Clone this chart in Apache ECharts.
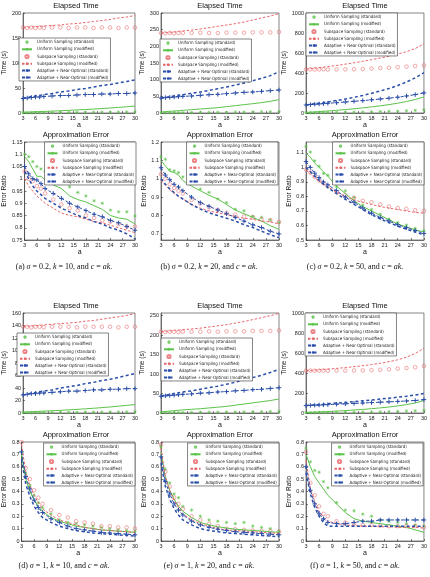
<!DOCTYPE html>
<html>
<head>
<meta charset="utf-8">
<script src="https://cdn.jsdelivr.net/npm/echarts@6/dist/echarts.min.js"></script>
<style>
  html, body { margin: 0; padding: 0; background: #fff; }
  #main { width: 430px; height: 577px; }
</style>
</head>
<body>
<div id="main"></div>
<script type="text/javascript">
// sampling factor a
var aValues = [3, 4, 5, 6, 7, 8, 10, 12, 14, 16, 18, 20, 22, 24, 26, 28, 30];
var seriesNames = [
  'Uniform Sampling (standard)',
  'Uniform Sampling (modified)',
  'Subspace Sampling (standard)',
  'Subspace Sampling (modified)',
  'Adaptive + Near-Optimal (standard)',
  'Adaptive + Near-Optimal (modified)'
];
var captions = [
  '(a) {i|σ} = 0.2, {i|k} = 10, and {i|c} = {i|ak}.',
  '(b) {i|σ} = 0.2, {i|k} = 20, and {i|c} = {i|ak}.',
  '(c) {i|σ} = 0.2, {i|k} = 50, and {i|c} = {i|ak}.',
  '(d) {i|σ} = 1, {i|k} = 10, and {i|c} = {i|ak}.',
  '(e) {i|σ} = 1, {i|k} = 20, and {i|c} = {i|ak}.',
  '(f) {i|σ} = 1, {i|k} = 50, and {i|c} = {i|ak}.'
];

// tick labels
var timeTicks200 = [0, 50, 100, 150, 200];
var timeTicks300 = [0, 50, 100, 150, 200, 250, 300];
var timeTicks1000 = [0, 200, 400, 600, 800, 1000];
var timeTicks160 = [0, 20, 40, 60, 80, 100, 120, 140, 160];
var timeTicks250 = [0, 50, 100, 150, 200, 250];
var errTicksA = [0.75, 0.8, 0.85, 0.9, 0.95, 1, 1.05, 1.1, 1.15];
var errTicksB = [0.7, 0.8, 0.9, 1, 1.1, 1.2];
var errTicksC = [0.5, 0.6, 0.7, 0.8, 0.9, 1, 1.1];
var errTicksLow = [0, 0.1, 0.2, 0.3, 0.4, 0.5, 0.6, 0.7, 0.8];

// (a) sigma=0.2, k=10
var timeA_uniStd = [0.6, 0.7, 0.7, 0.8, 0.9, 0.9, 1.0, 1.2, 1.3, 1.4, 1.5, 1.6, 1.8, 1.9, 2.0, 2.1, 2.3];
var timeA_uniMod = [1.5, 1.8, 2.1, 2.5, 2.8, 3.1, 3.8, 4.5, 5.3, 6.1, 7.0, 7.9, 8.9, 10.0, 11.2, 12.5, 14.0];
var timeA_subStd = [171, 170, 171, 170, 171, 170, 171, 171, 170, 171, 171, 170, 171, 171, 170, 171, 171];
var timeA_subMod = [171, 172, 172, 173, 173, 174, 175, 176, 178, 179, 181, 183, 185, 187, 190, 192, 195];
var timeA_adaStd = [29, 30, 31, 32, 32, 33, 34, 35, 35, 36, 37, 37, 38, 38, 39, 39, 40];
var timeA_adaMod = [30, 31, 33, 34, 35, 37, 39, 42, 44, 47, 49, 52, 55, 57, 60, 63, 66];
var errA_uniStd = [1.10, 1.09, 1.07, 1.05, 1.04, 1.03, 1.0, 0.98, 0.967, 0.944, 0.93, 0.91, 0.90, 0.872, 0.865, 0.865, 0.848];
var errA_uniMod = [1.09, 1.07, 1.04, 1.01, 1.01, 0.995, 0.975, 0.96, 0.93, 0.915, 0.905, 0.89, 0.875, 0.85, 0.84, 0.835, 0.815];
var errA_subStd = [1.03, 1.0, 0.99, 0.97, 0.96, 0.94, 0.915, 0.895, 0.88, 0.87, 0.85, 0.84, 0.83, 0.825, 0.815, 0.805, 0.805];
var errA_subMod = [1.0, 0.97, 0.95, 0.93, 0.915, 0.9, 0.88, 0.86, 0.85, 0.845, 0.835, 0.825, 0.82, 0.81, 0.8, 0.79, 0.78];
var errA_adaStd = [1.05, 1.02, 1.0, 0.995, 0.98, 0.96, 0.94, 0.92, 0.9, 0.885, 0.87, 0.855, 0.845, 0.83, 0.82, 0.805, 0.79];
var errA_adaMod = [1.03, 1.0, 0.97, 0.95, 0.935, 0.92, 0.9, 0.88, 0.865, 0.85, 0.84, 0.825, 0.815, 0.8, 0.79, 0.775, 0.755];

// (b) sigma=0.2, k=20
var timeB_uniStd = [0.8, 0.9, 1.0, 1.1, 1.2, 1.3, 1.5, 1.7, 1.9, 2.1, 2.3, 2.6, 2.8, 3.1, 3.4, 3.7, 4.0];
var timeB_uniMod = [3, 4, 5, 6, 7, 8, 10, 12, 14, 16, 19, 22, 25, 28, 31, 35, 40];
var timeB_subStd = [240, 239, 240, 239, 240, 240, 240, 241, 240, 240, 241, 241, 241, 242, 242, 242, 243];
var timeB_subMod = [240, 241, 242, 243, 245, 246, 249, 252, 256, 260, 264, 268, 273, 279, 285, 291, 298];
var timeB_adaStd = [45, 46, 47, 48, 49, 50, 51, 53, 55, 56, 58, 60, 62, 63, 65, 67, 69];
var timeB_adaMod = [45, 47, 49, 51, 53, 55, 59, 63, 68, 73, 78, 84, 90, 97, 104, 112, 124];
var errB_uniStd = [1.119, 1.106, 1.05, 1.043, 1.034, 1.01, 0.975, 0.944, 0.926, 0.89, 0.87, 0.834, 0.826, 0.797, 0.79, 0.776, 0.761];
var errB_uniMod = [1.1, 1.07, 1.04, 1.035, 1.02, 0.99, 0.96, 0.935, 0.91, 0.89, 0.86, 0.83, 0.81, 0.79, 0.77, 0.745, 0.725];
var errB_subStd = [1.025, 1.0, 0.97, 0.95, 0.935, 0.92, 0.885, 0.865, 0.845, 0.83, 0.815, 0.805, 0.795, 0.79, 0.78, 0.775, 0.765];
var errB_subMod = [0.99, 0.965, 0.94, 0.92, 0.905, 0.89, 0.86, 0.84, 0.825, 0.815, 0.805, 0.795, 0.785, 0.78, 0.77, 0.765, 0.755];
var errB_adaStd = [1.06, 1.02, 0.995, 0.97, 0.955, 0.935, 0.9, 0.87, 0.85, 0.83, 0.81, 0.79, 0.77, 0.75, 0.735, 0.715, 0.70];
var errB_adaMod = [1.0, 0.97, 0.945, 0.925, 0.905, 0.89, 0.86, 0.835, 0.815, 0.8, 0.785, 0.77, 0.75, 0.735, 0.715, 0.695, 0.68];

// (c) sigma=0.2, k=50
var timeC_uniStd = [3, 4, 4, 5, 5, 6, 7, 8, 9, 10, 12, 14, 16, 18, 22, 26, 32];
var timeC_uniMod = [5, 8, 11, 14, 17, 20, 27, 34, 42, 51, 61, 72, 84, 98, 115, 135, 160];
var timeC_subStd = [436, 437, 435, 436, 437, 435, 436, 436, 437, 440, 444, 449, 453, 458, 464, 470, 476];
var timeC_subMod = [440, 444, 449, 454, 459, 464, 475, 488, 502, 517, 533, 550, 568, 589, 613, 645, 690];
var timeC_adaStd = [80, 84, 88, 91, 94, 97, 103, 110, 117, 124, 132, 140, 148, 158, 170, 184, 201];
var timeC_adaMod = [80, 86, 92, 98, 104, 111, 125, 140, 157, 176, 197, 220, 245, 275, 310, 352, 403];
var errC_uniStd = [1.145, 1.106, 1.045, 1.008, 0.958, 0.946, 0.866, 0.839, 0.793, 0.74, 0.71, 0.678, 0.644, 0.62, 0.603, 0.58, 0.564];
var errC_uniMod = [1.1, 1.07, 1.03, 1.0, 0.97, 0.94, 0.87, 0.82, 0.77, 0.73, 0.70, 0.67, 0.64, 0.61, 0.59, 0.57, 0.555];
var errC_subStd = [0.985, 0.965, 0.935, 0.91, 0.89, 0.87, 0.83, 0.81, 0.79, 0.77, 0.76, 0.745, 0.73, 0.72, 0.715, 0.705, 0.70];
var errC_subMod = [0.98, 0.955, 0.93, 0.905, 0.885, 0.865, 0.83, 0.80, 0.775, 0.76, 0.745, 0.73, 0.72, 0.71, 0.70, 0.69, 0.685];
var errC_adaStd = [1.04, 1.0, 0.96, 0.93, 0.9, 0.88, 0.84, 0.795, 0.76, 0.72, 0.685, 0.655, 0.63, 0.605, 0.585, 0.565, 0.545];
var errC_adaMod = [1.0, 0.97, 0.94, 0.91, 0.885, 0.86, 0.82, 0.78, 0.745, 0.71, 0.675, 0.645, 0.62, 0.595, 0.575, 0.555, 0.535];

// (d) sigma=1, k=10
var timeD_uniStd = [0.5, 0.6, 0.6, 0.7, 0.8, 0.8, 0.9, 1.0, 1.1, 1.2, 1.3, 1.4, 1.5, 1.6, 1.7, 1.8, 1.9];
var timeD_uniMod = [1.5, 1.8, 2.1, 2.4, 2.7, 3.0, 3.6, 4.3, 5.0, 5.8, 6.7, 7.6, 8.6, 9.7, 10.9, 12.2, 13.5];
var timeD_subStd = [138, 138, 137, 138, 138, 137, 138, 138, 138, 137, 138, 138, 138, 138, 137, 138, 138];
var timeD_subMod = [138, 139, 139, 140, 140, 141, 142, 143, 144, 145, 147, 148, 150, 152, 154, 156, 159];
var timeD_adaStd = [29, 30, 31, 31, 32, 32, 33, 34, 35, 35, 36, 37, 37, 38, 38, 39, 39];
var timeD_adaMod = [29, 30, 32, 33, 34, 35, 37, 40, 42, 44, 47, 49, 52, 54, 57, 60, 63];
var errD_uniStd = [0.72, 0.55, 0.45, 0.37, 0.31, 0.27, 0.22, 0.17, 0.15, 0.14, 0.13, 0.12, 0.11, 0.10, 0.09, 0.085, 0.08];
var errD_uniMod = [0.7, 0.5, 0.4, 0.33, 0.28, 0.24, 0.19, 0.16, 0.14, 0.12, 0.11, 0.10, 0.09, 0.085, 0.08, 0.075, 0.07];
var errD_subStd = [0.8, 0.59, 0.5, 0.41, 0.35, 0.3, 0.25, 0.21, 0.19, 0.16, 0.15, 0.14, 0.12, 0.12, 0.11, 0.11, 0.10];
var errD_subMod = [0.78, 0.56, 0.45, 0.37, 0.31, 0.26, 0.21, 0.17, 0.15, 0.13, 0.11, 0.10, 0.09, 0.085, 0.08, 0.075, 0.07];
var errD_adaStd = [0.72, 0.52, 0.42, 0.33, 0.27, 0.23, 0.18, 0.15, 0.12, 0.10, 0.09, 0.08, 0.07, 0.065, 0.06, 0.055, 0.05];
var errD_adaMod = [0.66, 0.46, 0.36, 0.28, 0.23, 0.19, 0.15, 0.12, 0.10, 0.085, 0.075, 0.065, 0.06, 0.055, 0.05, 0.045, 0.04];

// (e) sigma=1, k=20
var timeE_uniStd = [0.8, 0.9, 1, 1.1, 1.2, 1.3, 1.5, 1.7, 1.9, 2.1, 2.3, 2.6, 2.8, 3.1, 3.4, 3.7, 4];
var timeE_uniMod = [3, 4, 5, 6, 7, 8, 9.5, 11, 13, 15, 17, 20, 23, 26, 29, 32, 36];
var timeE_subStd = [209, 208, 209, 209, 208, 209, 209, 209, 210, 209, 210, 210, 210, 211, 211, 211, 212];
var timeE_subMod = [209, 210, 211, 212, 213, 214, 216, 218, 221, 224, 227, 231, 235, 240, 245, 250, 256];
var timeE_adaStd = [43, 44, 45, 46, 47, 48, 49, 51, 52, 54, 55, 57, 58, 60, 61, 63, 65];
var timeE_adaMod = [44, 46, 48, 50, 52, 54, 57, 61, 65, 69, 74, 79, 85, 91, 97, 104, 112];
var errE_uniStd = [0.76, 0.58, 0.47, 0.38, 0.35, 0.28, 0.25, 0.2, 0.17, 0.16, 0.15, 0.14, 0.15, 0.12, 0.11, 0.10, 0.08];
var errE_uniMod = [0.72, 0.52, 0.41, 0.34, 0.28, 0.24, 0.19, 0.15, 0.13, 0.115, 0.105, 0.095, 0.09, 0.085, 0.08, 0.075, 0.07];
var errE_subStd = [0.78, 0.56, 0.44, 0.35, 0.3, 0.26, 0.2, 0.17, 0.14, 0.12, 0.10, 0.095, 0.09, 0.085, 0.08, 0.08, 0.075];
var errE_subMod = [0.75, 0.52, 0.41, 0.33, 0.27, 0.22, 0.17, 0.14, 0.12, 0.10, 0.09, 0.085, 0.08, 0.075, 0.07, 0.065, 0.06];
var errE_adaStd = [0.68, 0.48, 0.38, 0.3, 0.25, 0.21, 0.16, 0.13, 0.11, 0.095, 0.085, 0.075, 0.07, 0.065, 0.06, 0.055, 0.05];
var errE_adaMod = [0.63, 0.44, 0.34, 0.26, 0.21, 0.17, 0.13, 0.10, 0.085, 0.075, 0.065, 0.06, 0.055, 0.05, 0.045, 0.04, 0.035];

// (f) sigma=1, k=50
var timeF_uniStd = [3, 3, 4, 4, 5, 5, 6, 7, 8, 9, 10, 12, 14, 16, 19, 22, 27];
var timeF_uniMod = [5, 7, 9, 11, 13, 15, 19, 24, 30, 36, 43, 51, 60, 71, 84, 100, 125];
var timeF_subStd = [423, 424, 423, 424, 425, 423, 424, 424, 425, 426, 428, 432, 437, 443, 450, 458, 470];
var timeF_subMod = [423, 426, 429, 432, 435, 439, 446, 454, 463, 473, 484, 497, 513, 532, 558, 595, 648];
var timeF_adaStd = [74, 76, 78, 80, 82, 84, 88, 92, 96, 100, 104, 108, 112, 116, 120, 125, 134];
var timeF_adaMod = [74, 78, 81, 85, 88, 92, 99, 106, 114, 122, 130, 139, 148, 158, 168, 180, 195];
var errF_uniStd = [0.75, 0.64, 0.57, 0.556, 0.48, 0.43, 0.31, 0.25, 0.244, 0.217, 0.2, 0.17, 0.16, 0.15, 0.14, 0.13, 0.12];
var errF_uniMod = [0.7, 0.6, 0.52, 0.47, 0.42, 0.37, 0.3, 0.23, 0.18, 0.16, 0.15, 0.14, 0.13, 0.12, 0.11, 0.09, 0.07];
var errF_subStd = [0.72, 0.47, 0.37, 0.28, 0.22, 0.2, 0.16, 0.15, 0.14, 0.13, 0.13, 0.125, 0.12, 0.12, 0.12, 0.12, 0.11];
var errF_subMod = [0.65, 0.43, 0.32, 0.24, 0.19, 0.16, 0.14, 0.13, 0.125, 0.12, 0.12, 0.115, 0.115, 0.11, 0.11, 0.11, 0.105];
var errF_adaStd = [0.6, 0.41, 0.3, 0.22, 0.18, 0.15, 0.14, 0.14, 0.15, 0.16, 0.16, 0.17, 0.17, 0.17, 0.17, 0.17, 0.17];
var errF_adaMod = [0.55, 0.38, 0.27, 0.2, 0.15, 0.12, 0.12, 0.12, 0.12, 0.12, 0.12, 0.12, 0.12, 0.12, 0.12, 0.12, 0.12];

var GREEN = '#5cc24a', RED = '#e8666a', BLUE = '#2b4ea8';
var ASTER = 'path://M0,-5L0,5M-5,0L5,0M-3.6,-3.6L3.6,3.6M-3.6,3.6L3.6,-3.6';
var PLUS = 'path://M0,-5L0,5M-5,0L5,0';

var colLeft = [17, 161, 306];
var colCaption = [64, 209, 355];
var plotW = 118;
var rowTop = [13, 142, 313, 442];
var rowH = [100, 98, 100, 99];
var titleTop = [2, 131, 302, 431];
var captionTop = [263, 562];

var panels = [
  {col: 0, row: 0, title: 'Elapsed Time', yName: 'Time (s)', yMin: 0, yMax: 200, ticks: timeTicks200,
   data: [timeA_uniStd, timeA_uniMod, timeA_subStd, timeA_subMod, timeA_adaStd, timeA_adaMod], legend: {left: 19, top: 38}},
  {col: 1, row: 0, title: 'Elapsed Time', yName: 'Time (s)', yMin: 0, yMax: 300, ticks: timeTicks300,
   data: [timeB_uniStd, timeB_uniMod, timeB_subStd, timeB_subMod, timeB_adaStd, timeB_adaMod], legend: {left: 160, top: 39}},
  {col: 2, row: 0, title: 'Elapsed Time', yName: 'Time (s)', yMin: 0, yMax: 1000, ticks: timeTicks1000,
   data: [timeC_uniStd, timeC_uniMod, timeC_subStd, timeC_subMod, timeC_adaStd, timeC_adaMod], legend: {left: 306, top: 13}},
  {col: 0, row: 1, title: 'Approximation Error', yName: 'Error Ratio', yMin: 0.75, yMax: 1.15, ticks: errTicksA,
   data: [errA_uniStd, errA_uniMod, errA_subStd, errA_subMod, errA_adaStd, errA_adaMod], legend: {right: 294, top: 142}},
  {col: 1, row: 1, title: 'Approximation Error', yName: 'Error Ratio', yMin: 0.667, yMax: 1.2, ticks: errTicksB,
   data: [errB_uniStd, errB_uniMod, errB_subStd, errB_subMod, errB_adaStd, errB_adaMod], legend: {right: 152, top: 142}},
  {col: 2, row: 1, title: 'Approximation Error', yName: 'Error Ratio', yMin: 0.5, yMax: 1.175, ticks: errTicksC,
   data: [errC_uniStd, errC_uniMod, errC_subStd, errC_subMod, errC_adaStd, errC_adaMod], legend: {right: 6, top: 142}},
  {col: 0, row: 2, title: 'Elapsed Time', yName: 'Time (s)', yMin: 0, yMax: 160, ticks: timeTicks160,
   data: [timeD_uniStd, timeD_uniMod, timeD_subStd, timeD_subMod, timeD_adaStd, timeD_adaMod], legend: {left: 17, top: 333}},
  {col: 1, row: 2, title: 'Elapsed Time', yName: 'Time (s)', yMin: 0, yMax: 257, ticks: timeTicks250,
   data: [timeE_uniStd, timeE_uniMod, timeE_subStd, timeE_subMod, timeE_adaStd, timeE_adaMod], legend: {left: 161, top: 338}},
  {col: 2, row: 2, title: 'Elapsed Time', yName: 'Time (s)', yMin: 0, yMax: 1000, ticks: timeTicks1000,
   data: [timeF_uniStd, timeF_uniMod, timeF_subStd, timeF_subMod, timeF_adaStd, timeF_adaMod], legend: {left: 305, top: 313}},
  {col: 0, row: 3, title: 'Approximation Error', yName: 'Error Ratio', yMin: 0, yMax: 0.8, ticks: errTicksLow,
   data: [errD_uniStd, errD_uniMod, errD_subStd, errD_subMod, errD_adaStd, errD_adaMod], legend: {right: 295, top: 443}},
  {col: 1, row: 3, title: 'Approximation Error', yName: 'Error Ratio', yMin: 0, yMax: 0.8, ticks: errTicksLow,
   data: [errE_uniStd, errE_uniMod, errE_subStd, errE_subMod, errE_adaStd, errE_adaMod], legend: {right: 151, top: 443}},
  {col: 2, row: 3, title: 'Approximation Error', yName: 'Error Ratio', yMin: 0, yMax: 0.8, ticks: errTicksLow,
   data: [errF_uniStd, errF_uniMod, errF_subStd, errF_subMod, errF_adaStd, errF_adaMod], legend: {right: 7, top: 443}}
];

function seriesStyle(k) {
  switch (k) {
    case 0: return {type: 'scatter', symbol: ASTER, symbolSize: 3.4,
      itemStyle: {color: 'transparent', borderColor: GREEN, borderWidth: 0.7}};
    case 1: return {type: 'line', symbol: 'none', lineStyle: {color: GREEN, width: 1}, itemStyle: {color: GREEN}};
    case 2: return {type: 'scatter', symbol: 'circle', symbolSize: 3.6,
      itemStyle: {color: 'transparent', borderColor: RED, borderWidth: 0.7}};
    case 3: return {type: 'line', symbol: 'none', lineStyle: {color: RED, width: 1, type: [2.5, 1.8]}, itemStyle: {color: RED}};
    case 4: return {type: 'line', symbol: PLUS, symbolSize: 4.5, showAllSymbol: true,
      itemStyle: {color: BLUE, borderColor: BLUE, borderWidth: 1},
      lineStyle: {color: BLUE, width: 1, type: [3, 2]}};
    default: return {type: 'line', symbol: 'none', lineStyle: {color: BLUE, width: 1.5, type: [3, 2.5]}, itemStyle: {color: BLUE}};
  }
}

var option = {
  animation: false,
  backgroundColor: '#fff',
  title: [], grid: [], xAxis: [], yAxis: [], legend: [], series: []
};

var axisFont = {fontSize: 5.5, color: '#222', fontFamily: 'Liberation Sans'};

panels.forEach(function (p, i) {
  var left = colLeft[p.col], top = rowTop[p.row];
  option.grid.push({left: left, top: top, width: plotW, height: rowH[p.row],
    show: true, borderColor: '#333', borderWidth: 0.6, backgroundColor: '#fff'});
  option.title.push({text: p.title, left: left + plotW / 2, top: titleTop[p.row], textAlign: 'center', padding: 0,
    textStyle: {fontSize: 7.5, fontWeight: 'normal', color: '#111', fontFamily: 'Liberation Sans'}});
  option.xAxis.push({type: 'value', gridIndex: i, min: 3, max: 30, interval: 3,
    name: 'a', nameLocation: 'middle', nameGap: 9,
    nameTextStyle: {fontSize: 7, color: '#111', fontFamily: 'Liberation Sans'},
    axisLine: {show: true, onZero: false, lineStyle: {color: '#333', width: 0.6}},
    axisTick: {show: true, inside: true, length: 2, lineStyle: {color: '#333', width: 0.6}},
    axisLabel: Object.assign({margin: 2}, axisFont),
    splitLine: {show: false}});
  option.yAxis.push({type: 'value', gridIndex: i, min: p.yMin, max: p.yMax,
    name: p.yName, nameLocation: 'middle', nameGap: p.yMax >= 1000 ? 15 : 12, nameRotate: 90,
    nameTextStyle: {fontSize: 6.5, color: '#111', fontFamily: 'Liberation Sans'},
    axisLine: {show: true, lineStyle: {color: '#333', width: 0.6}},
    axisTick: {show: true, inside: true, length: 2, customValues: p.ticks, lineStyle: {color: '#333', width: 0.6}},
    axisLabel: Object.assign({margin: 2, customValues: p.ticks, formatter: function (v) { return String(v); }}, axisFont),
    splitLine: {show: false}});
  var lg = {orient: 'vertical', top: p.legend.top, data: seriesNames,
    backgroundColor: '#fff', borderColor: '#333', borderWidth: 0.6, padding: [1.5, 2],
    itemGap: 2.6, itemWidth: 10, itemHeight: 3.2,
    textStyle: {fontSize: 4.4, color: '#222', fontFamily: '"Liberation Sans Narrow", "DejaVu Sans Condensed", "Liberation Sans"'}, z: 10};
  if (p.legend.left !== undefined) { lg.left = p.legend.left; } else { lg.right = p.legend.right; }
  option.legend.push(lg);
  p.data.forEach(function (arr, k) {
    var s = seriesStyle(k);
    s.name = seriesNames[k];
    s.xAxisIndex = i;
    s.yAxisIndex = i;
    s.data = aValues.map(function (a, j) { return [a, arr[j]]; });
    option.series.push(s);
  });
});

captions.forEach(function (c, i) {
  option.title.push({text: c, left: colCaption[i % 3], top: captionTop[Math.floor(i / 3)], textAlign: 'center', padding: 0,
    textStyle: {fontSize: 8, fontWeight: 'normal', color: '#111', fontFamily: 'Liberation Serif',
      rich: {i: {fontSize: 8, fontStyle: 'italic', color: '#111', fontFamily: 'Liberation Serif'}}}});
});

var chart = echarts.init(document.getElementById('main'));
chart.setOption(option);
</script>
</body>
</html>
